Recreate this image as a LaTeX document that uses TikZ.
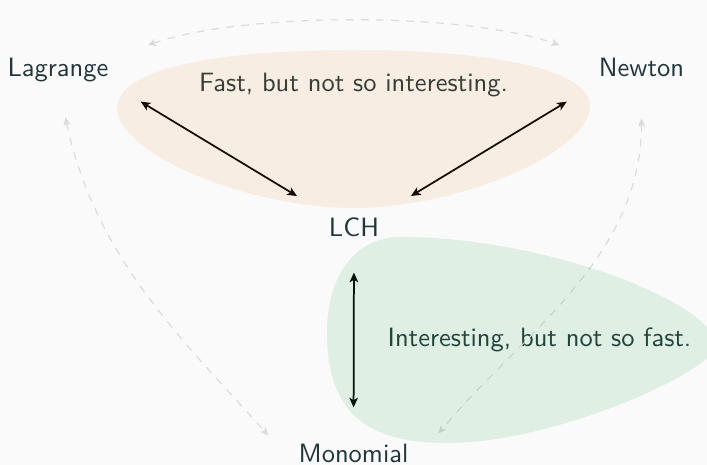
\documentclass[tikz,border=0pt]{standalone}
\usetikzlibrary{arrows.meta}
\definecolor{bgc}{HTML}{FAFAFA}
\definecolor{txt}{HTML}{23373B}
\definecolor{faint}{HTML}{DADADA}
\definecolor{warm}{HTML}{EB811B}
\definecolor{leaf}{HTML}{21A74B}
\begin{document}
\begin{tikzpicture}[x=0.4pt,y=0.4pt,
  lbl/.style={inner sep=0pt, anchor=base, text=txt, text height=7.2pt, text depth=2pt,
    font=\sffamily\fontsize{10.6pt}{12.7pt}\selectfont},
  link/.style={{Stealth[length=3.9pt,width=3.4pt,inset=1pt]}-{Stealth[length=3.9pt,width=3.4pt,inset=1pt]},
    line width=0.7pt, black},
  hint/.style={{Stealth[length=3.3pt,width=2.9pt,inset=0.9pt]}-{Stealth[length=3.3pt,width=2.9pt,inset=0.9pt]},
    dashed, line width=0.45pt, faint},
  blob/.style={draw=none, fill opacity=#1}]
  % canvas
  \fill[bgc] (0,0) rectangle (707,465);
  \useasboundingbox (0,0) rectangle (707,465);
  \clip (0,0) rectangle (707,465);

  % methods
  \node[lbl] (Lagrange) at (58,388) {Lagrange};
  \node[lbl] (Newton)   at (641.5,388) {Newton};
  \node[lbl] (LCH)      at (354,228) {LCH};
  \node[lbl] (Monomial) at (353.5,2) {Monomial};

  % group captions
  \node[lbl] (fast) at (353.5,373) {Fast, but not so interesting.};
  \node[lbl] (slow) at (539.5,118) {Interesting, but not so fast.};

  % cheap conversions
  \draw[link, shorten <=14.8pt, shorten >=26.6pt] (Lagrange.south east) -- (LCH.center);
  \draw[link, shorten <=14.8pt, shorten >=26.6pt] (Newton.south west) -- (LCH.center);
  \draw[link, shorten <=12pt, shorten >=14.8pt] (LCH.south) -- (Monomial.north);

  % expensive conversions
  \draw[hint, shorten <=16.5pt, shorten >=16.5pt]
    (Lagrange.north east) to[out=19, in=161, looseness=0.75] (Newton.north west);
  \draw[hint, shorten <=14.3pt, shorten >=17.8pt]
    (Lagrange.south) to[out=-78, in=132] (Monomial.south west);
  \draw[hint, shorten <=14.4pt, shorten >=18.3pt]
    (Newton.south) to[out=-90, in=50] (Monomial.south east);

  % shaded groups
  \fill[warm, blob=0.1]
    (117,357) .. controls (117,395) and (211,415) .. (353,415)
              .. controls (495,415) and (590,395) .. (590,359)
              .. controls (590,313) and (460,257) .. (353,257)
              .. controls (247,257) and (117,312) .. cycle;
  \fill[leaf, blob=0.12]
    (327,133) .. controls (327,190) and (356,228) .. (400,228)
              .. controls (550,228) and (716,160) .. (716,120)
              .. controls (716,95) and (557,22) .. (447,22)
              .. controls (363,22) and (327,55) .. cycle;
\end{tikzpicture}
\end{document}
